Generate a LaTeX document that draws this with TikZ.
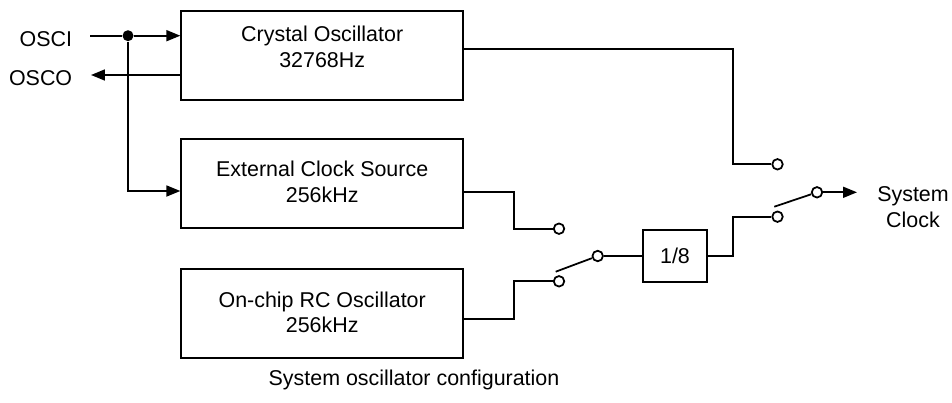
\documentclass[tikz,border=0pt]{standalone}
\usepackage{fontspec}
\setmainfont{Liberation Sans}
\usetikzlibrary{arrows.meta,calc}

\tikzset{
  bloque/.style={draw, line width=1pt, minimum width=5.64cm, minimum height=1.78cm, inner sep=0pt},
  texto/.style={align=center, font=\fontsize{12.2}{14.5}\selectfont, inner sep=0pt},
  contacto/.style={circle, draw, fill=white, line width=1pt, minimum size=0.21cm, inner sep=0pt},
  linea/.style={line width=1pt},
  flecha/.style={line width=1pt, -{Triangle[length=0.28cm, width=0.22cm]}},
}

\begin{document}
\begin{tikzpicture}[x=0.02cm, y=-0.02cm]
  \useasboundingbox (0,0) rectangle (952,402);

  % Bloques de oscilador
  \node[bloque] (xtal) at (322.2,55.5) {};
  \node[bloque] (ext)  at (322.2,183.8) {};
  \node[bloque] (rc)   at (322.2,313.6) {};
  \node[texto] (xtaltxt) at (322.2,47)  {Crystal Oscillator\\32768Hz};
  \node[texto] (exttxt)  at (322.2,182) {External Clock Source\\256kHz};
  \node[texto] (rctxt)   at (322.2,312.5) {On-chip RC Oscillator\\256kHz};

  % Divisor
  \node[bloque, minimum width=1.28cm, minimum height=1.03cm, texto] (div) at (675,256) {1/8};

  % Contactos de los conmutadores
  \node[contacto] (cA) at (559,228.7) {};
  \node[contacto] (cB) at (559,281.3) {};
  \node[contacto] (p1) at (597.7,256) {};
  \node[contacto] (cC) at (777.5,164.3) {};
  \node[contacto] (cE) at (777.5,216.7) {};
  \node[contacto] (p2) at (817,192.3) {};
  \coordinate (kQ) at (514,0);
  \coordinate (kR) at (732.7,0);

  % Entradas y salidas OSCI / OSCO
  \node[texto, anchor=east] (osci) at (72.5,39.5) {OSCI};
  \node[texto, anchor=east] (osco) at (72.5,78) {OSCO};
  \coordinate (ini) at (90,35.7);
  \coordinate (fin) at (91,75);
  \node[circle, fill, inner sep=0pt, minimum size=0.22cm] (nudo) at (128,35.7) {};
  \draw[linea] (ini) -- (nudo);
  \draw[flecha] (nudo) -- (nudo -| xtal.west);
  \draw[flecha] (nudo) |- ($(ext.west)+(0,7.2)$);
  \draw[flecha] (xtal.west |- fin) -- (fin);

  % Salidas hacia los conmutadores
  \draw[linea] ($(xtal.east)+(0,-6.2)$) -| (kR |- cC) -- (cC);
  \draw[linea] ($(ext.east)+(0,7.9)$) -| (kQ |- cA) -- (cA);
  \draw[linea] ($(rc.east)+(0,5.4)$) -| (kQ |- cB) -- (cB);

  % Conmutador 1 y divisor
  \coordinate (l1) at (555.7,271.7);
  \draw[linea] (l1) -- (p1);
  \draw[linea] (p1) -- (div);
  \draw[linea] (div.east) -- (div.east -| kR) |- (cE);

  % Conmutador 2 y salida
  \coordinate (l2) at (774.3,206.7);
  \coordinate (sal) at (857,192.3);
  \draw[linea] (l2) -- (p2);
  \draw[flecha] (p2) -- (sal);
  \node[texto] (clk) at (913,207) {System\\Clock};

  % Pie
  \node[texto] (pie) at (414,380) {System oscillator configuration};
\end{tikzpicture}
\end{document}
